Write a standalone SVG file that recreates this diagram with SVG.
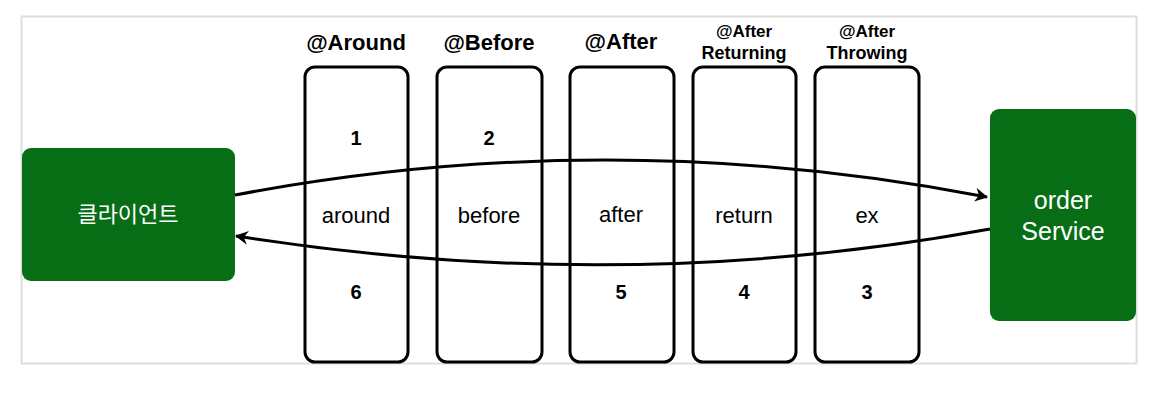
<svg xmlns="http://www.w3.org/2000/svg" width="1152" height="402" viewBox="0 0 1152 402">
<style>
.col{fill:#fff;stroke:#000;stroke-width:3}
.green{fill:#076e16;stroke:none}
.h{font-family:"Liberation Sans",Arial,sans-serif;font-weight:bold;text-anchor:middle;fill:#000}
.t{font-family:"Liberation Sans",Arial,sans-serif;text-anchor:middle;fill:#000;font-size:22px}
.n{font-family:"Liberation Sans",Arial,sans-serif;font-weight:bold;text-anchor:middle;fill:#000;font-size:20px}
.w{font-family:"Liberation Sans","Noto Sans CJK KR",Arial,sans-serif;text-anchor:middle;fill:#fff}
.edge{fill:none;stroke:#000;stroke-width:3}
</style>
<defs>
<marker id="arr" viewBox="0 0 14 14" refX="12" refY="7" markerWidth="14" markerHeight="14" markerUnits="userSpaceOnUse" orient="auto">
<path d="M0,0 L13,7 L0,14 L4,7 Z" fill="#000"/>
</marker>
</defs>
<rect x="0" y="0" width="1152" height="402" fill="#fff"/>
<rect x="21.5" y="16.5" width="1115" height="347" fill="#fff" stroke="#dedede" stroke-width="2"/>

<g id="client">
<rect class="green" x="22" y="148" width="213" height="133" rx="9"/>
<text class="w" x="128" y="222" font-size="22">클라이언트</text>
</g>
<g id="orderService">
<rect class="green" x="990" y="109" width="146" height="212" rx="9"/>
<text class="w" x="1063" y="209" font-size="25">order</text>
<text class="w" x="1063" y="240" font-size="25">Service</text>
</g>

<g id="around">
<text class="h" x="356" y="50" font-size="22">@Around</text>
<rect class="col" x="305" y="67" width="103" height="295" rx="10"/>
<text class="n" x="356" y="145">1</text>
<text class="t" x="356" y="223">around</text>
<text class="n" x="356" y="299">6</text>
</g>
<g id="before">
<text class="h" x="489" y="50" font-size="22">@Before</text>
<rect class="col" x="437" y="67" width="105" height="295" rx="10"/>
<text class="n" x="489" y="145">2</text>
<text class="t" x="489" y="223">before</text>
</g>
<g id="after">
<text class="h" x="621" y="49" font-size="22">@After</text>
<rect class="col" x="570" y="67" width="104" height="295" rx="10"/>
<text class="t" x="621" y="222">after</text>
<text class="n" x="621" y="299">5</text>
</g>
<g id="afterReturning">
<text class="h" x="744" y="37" font-size="17">@After</text>
<text class="h" x="744" y="59" font-size="18">Returning</text>
<rect class="col" x="693" y="67" width="103" height="295" rx="10"/>
<text class="t" x="744" y="223">return</text>
<text class="n" x="744" y="299">4</text>
</g>
<g id="afterThrowing">
<text class="h" x="867" y="37" font-size="17">@After</text>
<text class="h" x="867" y="59" font-size="18">Throwing</text>
<rect class="col" x="815" y="67" width="104" height="295" rx="10"/>
<text class="t" x="867" y="223">ex</text>
<text class="n" x="867" y="299">3</text>
</g>

<g id="connectors">
<path class="edge" d="M235,195 Q610,124 987,197" marker-end="url(#arr)"/>
<path class="edge" d="M990,229 Q620,297 236,236" marker-end="url(#arr)"/>
</g>
</svg>
